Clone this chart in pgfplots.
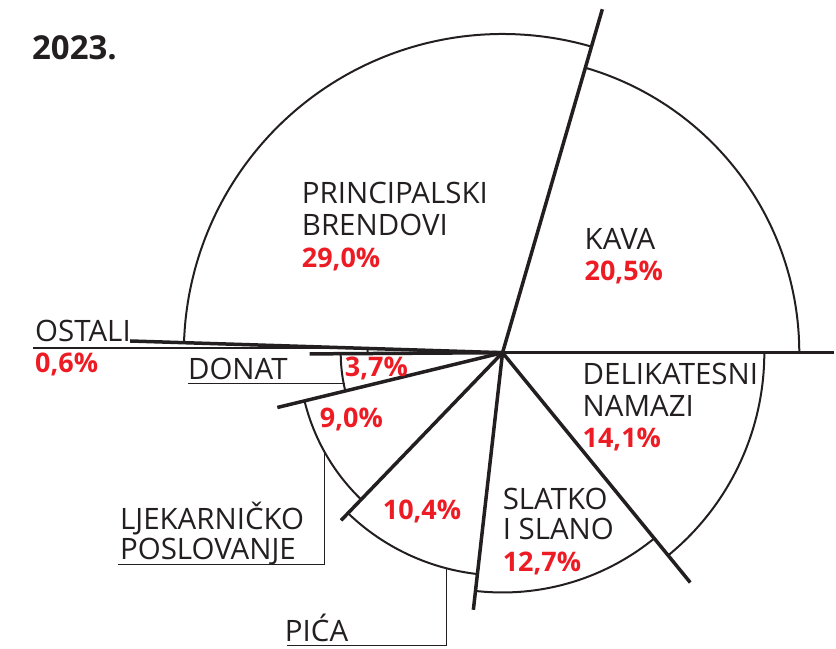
\documentclass[border=0pt]{standalone}
\usepackage{pgfplots}
\usepackage{pgfplotstable}
\pgfplotsset{compat=1.18}
\usepackage{fontspec}
\setmainfont{Open Sans}
\definecolor{ink}{HTML}{231F20}
\definecolor{accent}{HTML}{ED1C24}

% share (%), drawn radius and length of the divider at the slice's start angle
\pgfplotstableread{
name         pct   radius  edge
Kava         20.5  297     332
Principalski 29.0  319     358
Ostali       0.6   135     373
Donat        3.7   162     193
Ljekarnicko  9.0   204     232
Pica         10.4  223     233
SlatkoSlano  12.7  240     259
Delikatesni  14.1  262     297
}\shares

\begin{document}
\begin{tikzpicture}[
  lab/.style={anchor=base west, inner sep=0pt, text=ink,
    font=\fontsize{29.5}{34}\selectfont},
  val/.style={anchor=base west, inner sep=0pt, text=accent,
    font=\fontsize{27}{32}\selectfont\bfseries},
]
\begin{axis}[
  width=836pt, height=649pt, scale only axis,
  xmin=-503, xmax=333, ymin=-296, ymax=353,
  hide axis, clip=false, no markers,
]
\path (axis cs:-503,-296) rectangle (axis cs:333,353);

\pgfplotstablegetrowsof{\shares}
\pgfmathtruncatemacro\lastrow{\pgfplotsretval-1}
\def\cum{0}
\pgfplotsforeachungrouped \i in {0,...,\lastrow}{
  \pgfplotstablegetelem{\i}{pct}\of\shares \let\pct\pgfplotsretval
  \pgfplotstablegetelem{\i}{radius}\of\shares \let\rad\pgfplotsretval
  \pgfplotstablegetelem{\i}{edge}\of\shares \let\edgelen\pgfplotsretval
  \pgfmathsetmacro\astart{3.6*\cum}
  \pgfmathsetmacro\aend{3.6*(\cum+\pct)}
  \pgfmathsetmacro\ex{\edgelen*cos(\astart)}
  \pgfmathsetmacro\ey{\edgelen*sin(\astart)}
  \edef\doslice{%
    \noexpand\addplot[ink, line width=2pt, domain=\astart:\aend,
      samples=100, variable=\noexpand\t]
      ({\rad*cos(\noexpand\t)},{\rad*sin(\noexpand\t)});
    \noexpand\addplot[ink, line width=3.5pt] coordinates {(0,0) (\ex,\ey)};
  }%
  \doslice
  \pgfmathsetmacro\cum{\cum+\pct}
}

% leader lines for the small slices
\draw[ink, line width=1.5pt] (axis cs:-470,4.5) -- (axis cs:-135,4.5);
\draw[ink, line width=1.5pt] (axis cs:-315,-31) -- (axis cs:-158,-31);
\draw[ink, line width=1.5pt] (axis cs:-178,-100) -- (axis cs:-178,-212) -- (axis cs:-385,-212);
\draw[ink, line width=1.5pt] (axis cs:-56,-216) -- (axis cs:-56,-293) -- (axis cs:-216,-293);

% year
\node[anchor=base west, inner sep=0pt, text=ink,
  font=\fontsize{33}{38}\selectfont\bfseries] at (axis cs:-471,293) {2023.};

% labels
\node[lab] at (axis cs:-201,149) {PRINCIPALSKI};
\node[lab] at (axis cs:-201,117) {BRENDOVI};
\node[val] at (axis cs:-201,85) {29,0\%};
\node[lab] at (axis cs:82,103) {KAVA};
\node[val] at (axis cs:82,72) {20,5\%};
\node[lab] at (axis cs:80,-32) {DELIKATESNI};
\node[lab] at (axis cs:80,-64) {NAMAZI};
\node[val] at (axis cs:80,-95) {14,1\%};
\node[lab] at (axis cs:0,-157) {SLATKO};
\node[lab] at (axis cs:0,-187) {I SLANO};
\node[val] at (axis cs:0,-219) {12,7\%};
\node[val] at (axis cs:-120,-167) {10,4\%};
\node[val] at (axis cs:-183,-75) {9,0\%};
\node[val] at (axis cs:-158,-24) {3,7\%};
\node[lab] at (axis cs:-315,-27) {DONAT};
\node[lab] at (axis cs:-468,11) {OSTALI};
\node[val] at (axis cs:-468,-20) {0,6\%};
\node[lab] at (axis cs:-383,-177) {LJEKARNIČKO};
\node[lab] at (axis cs:-383,-207) {POSLOVANJE};
\node[lab] at (axis cs:-218,-289) {PIĆA};
\end{axis}
\end{tikzpicture}
\end{document}
